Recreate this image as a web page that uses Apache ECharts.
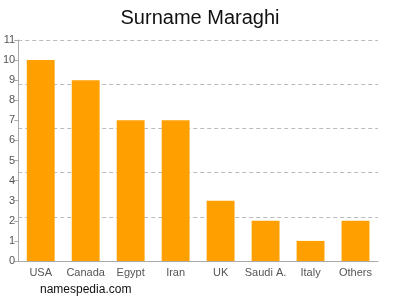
<!DOCTYPE html>
<html><head><meta charset="utf-8">
<script src="https://cdn.jsdelivr.net/npm/echarts@6/dist/echarts.min.js"></script>
<style>html,body{margin:0;padding:0;background:#fff}#c{width:400px;height:300px}</style>
</head><body><div id="c"></div>
<script>
var categories = ['USA','Canada','Egypt','Iran','UK','Saudi A.','Italy','Others'];
var counts = [10, 9, 7, 7, 3, 2, 1, 2];
var yTicks = [0,1,2,3,4,5,6,7,8,9,10,11];
var chart = echarts.init(document.getElementById('c'), null, {renderer:'canvas'});
chart.setOption({
  animation:false,
  title:{text:'Surname Maraghi', left:'center', top:3, textStyle:{fontFamily:'Liberation Sans, Arial', fontSize:20, fontWeight:'normal', color:'#111'}},
  graphic:[{type:'text', left:40, top:284, style:{text:'namespedia.com', fontFamily:'Liberation Sans, Arial', fontSize:12, fill:'#111'}}],
  grid:{left:17, right:22, top:40, bottom:39},
  xAxis:{type:'category', data:categories,
    axisLine:{lineStyle:{color:'#aaa'}}, axisTick:{show:false},
    axisLabel:{interval:0, color:'#555', fontFamily:'Liberation Sans, Arial', fontSize:11, margin:6}},
  yAxis:[{type:'value', min:yTicks[0], max:yTicks[yTicks.length-1], interval:1,
    axisLine:{show:true, lineStyle:{color:'#aaa'}}, axisTick:{show:true, length:4, lineStyle:{color:'#aaa'}},
    splitLine:{show:false},
    axisLabel:{color:'#555', fontFamily:'Liberation Sans, Arial', fontSize:11, margin:3}},
   {type:'value', min:0, max:11, interval:2.2, position:'left', show:true,
    axisLine:{show:false}, axisTick:{show:false}, axisLabel:{show:false},
    splitLine:{show:true, lineStyle:{color:'#bbb', type:[4,3]}}}],
  series:[{type:'bar', data:counts, barWidth:'62%', yAxisIndex:0,
    itemStyle:{color:'#FFA000'}}]
});
</script></body></html>
